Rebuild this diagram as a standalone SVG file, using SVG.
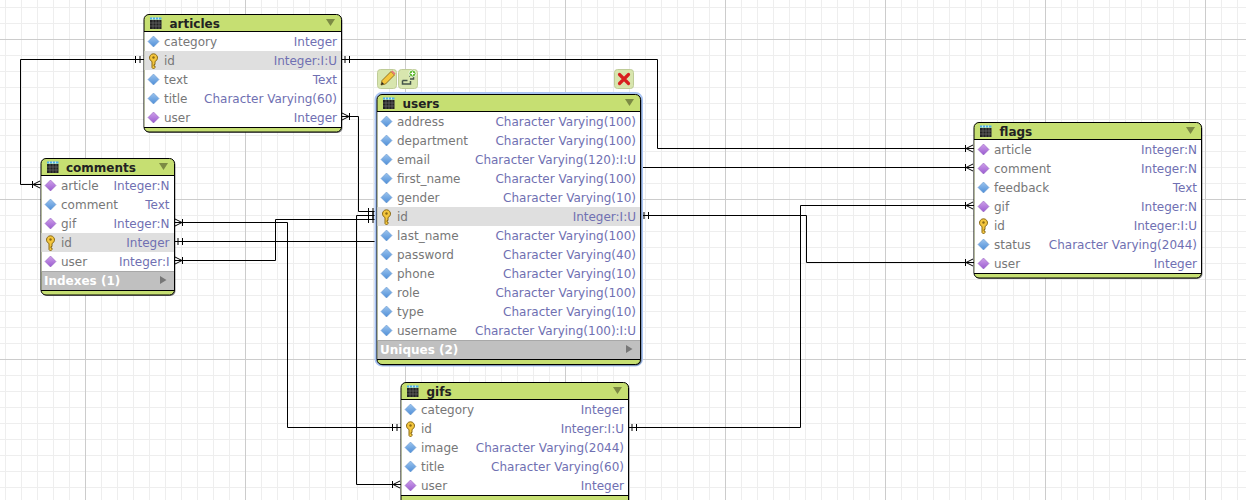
<svg xmlns="http://www.w3.org/2000/svg" width="1246" height="500" viewBox="0 0 1246 500">
<style>
.minor{stroke:#eeeeee;stroke-width:1;fill:none}
.major{stroke:#cccccc;stroke-width:1;fill:none}
.conn{stroke:#000;stroke-width:1;fill:none}
.shadow{fill:#000;fill-opacity:.45}
.body{fill:#c6df72;stroke:#000;stroke-width:1}
.rows{fill:#fff}
.line{stroke:#000;stroke-width:1;fill:none}
.sel{fill:#dfdfdf}
.sec{fill:#c0c0c0}
.secline{stroke:#a8a8a8;stroke-width:1}
text{font-family:"DejaVu Sans",Verdana,sans-serif;font-size:12px}
.title{font-weight:bold;fill:#222}
.name{fill:#777}
.type{fill:#7070b2;text-anchor:end}
.sectxt{font-weight:bold;fill:#fff}
.tri{fill:#7c8a44}
.tri2{fill:#777}
.halo{fill:none;stroke:#a9c4f2;stroke-width:3}
.btn{fill:#d8e6ae;stroke:#bfcc98;stroke-width:1}
</style>
<defs>
<linearGradient id="gb" x1="0" y1="0" x2="0" y2="1"><stop offset="0" stop-color="#9cc4ee"/><stop offset="1" stop-color="#4f8fd8"/></linearGradient>
<linearGradient id="gp" x1="0" y1="0" x2="0" y2="1"><stop offset="0" stop-color="#cfa0ea"/><stop offset="1" stop-color="#9a5cd0"/></linearGradient>
<g id="blue"><path d="M0-5.500 5.500 0 0 5.500-5.500 0Z" fill="url(#gb)" stroke="#5d8fc8" stroke-width=".5"/></g>
<g id="purple"><path d="M0-5.500 5.500 0 0 5.500-5.500 0Z" fill="url(#gp)" stroke="#8a55b8" stroke-width=".5"/></g>
<g id="key"><path d="M-1.500 1V7L0 8.500 1.500 7V5.500H.5V4H1.500V1A4 4 0 1 0-1.500 1Z" fill="#f4c63d" stroke="#8a6a14" stroke-width="1"/><circle cx="0" cy="-3" r="1.200" fill="#8a6a14"/></g>
<g id="tbl"><path d="M0 0h11.500v2h-11.500z" fill="#4aaef0"/><path d="M2.500 0v2M5.500 0v2M8.500 0v2" stroke="#fff" stroke-width=".7"/><rect x="0" y="2.500" width="11.500" height="9" fill="#222"/><path d="M0 5.500h11.500M0 8.500h11.500M3 2.500v9M6 2.500v9M9 2.500v9" stroke="#777" stroke-width=".6"/></g>
<marker id="one" markerUnits="userSpaceOnUse" orient="auto-start-reverse" viewBox="-12 -6 12 12" refX="0" refY="0" markerWidth="12" markerHeight="12"><path d="M-8.500-3.500V3.500M-4-3.500V3.500" stroke="#000" stroke-width="1" fill="none"/></marker>
<marker id="many" markerUnits="userSpaceOnUse" orient="auto-start-reverse" viewBox="-12 -6 12 12" refX="0" refY="0" markerWidth="12" markerHeight="12"><path d="M-8.500-3.500V3.500M-8 0-1-3.500M-8 0-1 3.500" stroke="#000" stroke-width="1" fill="none"/></marker>
</defs>

<g id="grid">
<path class="minor" d="M5.500 0V500M21.500 0V500M37.500 0V500M53.500 0V500M69.500 0V500M101.500 0V500M117.500 0V500M133.500 0V500M149.500 0V500M165.500 0V500M181.500 0V500M197.500 0V500M213.500 0V500M229.500 0V500M261.500 0V500M277.500 0V500M293.500 0V500M309.500 0V500M325.500 0V500M341.500 0V500M357.500 0V500M373.500 0V500M389.500 0V500M421.500 0V500M437.500 0V500M453.500 0V500M469.500 0V500M485.500 0V500M501.500 0V500M517.500 0V500M533.500 0V500M549.500 0V500M581.500 0V500M597.500 0V500M613.500 0V500M629.500 0V500M645.500 0V500M661.500 0V500M677.500 0V500M693.500 0V500M709.500 0V500M741.500 0V500M757.500 0V500M773.500 0V500M789.500 0V500M805.500 0V500M821.500 0V500M837.500 0V500M853.500 0V500M869.500 0V500M901.500 0V500M917.500 0V500M933.500 0V500M949.500 0V500M965.500 0V500M981.500 0V500M997.500 0V500M1013.500 0V500M1029.500 0V500M1061.500 0V500M1077.500 0V500M1093.500 0V500M1109.500 0V500M1125.500 0V500M1141.500 0V500M1157.500 0V500M1173.500 0V500M1189.500 0V500M1221.500 0V500M1237.500 0V500"/>
<path class="minor" d="M0 7.500H1246M0 23.500H1246M0 55.500H1246M0 71.500H1246M0 87.500H1246M0 103.500H1246M0 119.500H1246M0 135.500H1246M0 151.500H1246M0 167.500H1246M0 183.500H1246M0 215.500H1246M0 231.500H1246M0 247.500H1246M0 263.500H1246M0 279.500H1246M0 295.500H1246M0 311.500H1246M0 327.500H1246M0 343.500H1246M0 375.500H1246M0 391.500H1246M0 407.500H1246M0 423.500H1246M0 439.500H1246M0 455.500H1246M0 471.500H1246M0 487.500H1246"/>
<path class="major" d="M85.500 0V500M245.500 0V500M405.500 0V500M565.500 0V500M725.500 0V500M885.500 0V500M1045.500 0V500M1205.500 0V500M0 39.500H1246M0 199.500H1246M0 359.500H1246"/>
</g>

<g id="connectors">
<path class="conn" marker-start="url(#one)" marker-end="url(#many)" d="M144 59.500H20.500V184.500H41"/>
<path class="conn" marker-start="url(#one)" marker-end="url(#many)" d="M341 59.500H657.500V148.500H974"/>
<path class="conn" marker-start="url(#many)" marker-end="url(#one)" d="M341 116.500H358.500V211.500H377"/>
<path class="conn" marker-start="url(#many)" marker-end="url(#one)" d="M174 222.500H287.500V427.500H401"/>
<path class="conn" marker-start="url(#one)" d="M174 241.500H377"/>
<path class="conn" marker-start="url(#many)" marker-end="url(#one)" d="M174 260.500H275.500V219.500H377"/>
<path class="conn" marker-start="url(#one)" marker-end="url(#many)" d="M377 215.500H356.500V484.500H401"/>
<path class="conn" d="M640 167.500H974" marker-end="url(#many)"/>
<path class="conn" marker-start="url(#one)" marker-end="url(#many)" d="M640 215.500H806.500V262.500H974"/>
<path class="conn" marker-start="url(#one)" marker-end="url(#many)" d="M628 427.500H800.500V205.500H974"/>
</g>

<g id="articles" transform="translate(144,14)">
<rect class="shadow" x="1" y="1.500" width="197.500" height="117.500" rx="5"/>
<rect class="body" x="0" y=".5" width="197.500" height="117.500" rx="5"/>
<rect class="rows" x=".5" y="18" width="196.500" height="95"/>
<rect class="sel" x=".5" y="37" width="196.500" height="19"/>
<path class="line" d="M0 17.500H197.500M0 113.500H197.500"/>
<use href="#tbl" x="6" y="3.500"/>
<text class="title" x="25.500" y="14">articles</text>
<path class="tri" d="M182 5h9l-4.500 7z"/>
<use href="#blue" x="9.500" y="27.500"/><text class="name" x="20" y="32">category</text><text class="type" x="193" y="32">Integer</text>
<use href="#key" x="9.500" y="46.500"/><text class="name" x="20" y="51">id</text><text class="type" x="193" y="51">Integer:I:U</text>
<use href="#blue" x="9.500" y="65.500"/><text class="name" x="20" y="70">text</text><text class="type" x="193" y="70">Text</text>
<use href="#blue" x="9.500" y="84.500"/><text class="name" x="20" y="89">title</text><text class="type" x="193" y="89">Character Varying(60)</text>
<use href="#purple" x="9.500" y="103.500"/><text class="name" x="20" y="108">user</text><text class="type" x="193" y="108">Integer</text>
</g>

<g id="comments" transform="translate(41,158)">
<rect class="shadow" x="1" y="1.500" width="133.500" height="136.500" rx="5"/>
<rect class="body" x="0" y=".5" width="133.500" height="136.500" rx="5"/>
<rect class="rows" x=".5" y="18" width="132.500" height="95"/>
<rect class="sel" x=".5" y="75" width="132.500" height="19"/>
<rect class="sec" x=".5" y="113" width="132.500" height="19"/>
<path class="secline" d="M.5 113.500H133"/>
<path class="line" d="M0 17.500H133.500M0 132.500H133.500"/>
<use href="#tbl" x="6" y="3.500"/>
<text class="title" x="25" y="14">comments</text>
<path class="tri" d="M118 5h9l-4.500 7z"/>
<use href="#purple" x="9.500" y="27.500"/><text class="name" x="20" y="32">article</text><text class="type" x="128.500" y="32">Integer:N</text>
<use href="#blue" x="9.500" y="46.500"/><text class="name" x="20" y="51">comment</text><text class="type" x="128.500" y="51">Text</text>
<use href="#purple" x="9.500" y="65.500"/><text class="name" x="20" y="70">gif</text><text class="type" x="128.500" y="70">Integer:N</text>
<use href="#key" x="9.500" y="84.500"/><text class="name" x="20" y="89">id</text><text class="type" x="128.500" y="89">Integer</text>
<use href="#purple" x="9.500" y="103.500"/><text class="name" x="20" y="108">user</text><text class="type" x="128.500" y="108">Integer:I</text>
<text class="sectxt" x="3" y="127">Indexes (1)</text>
<path class="tri2" d="M119 118v8l6.500-4z"/>
</g>

<g id="users" transform="translate(377,94)">
<rect class="halo" x="-1" y="-.5" width="265.500" height="271.500" rx="6"/>
<rect class="shadow" x="1" y="1.500" width="263.500" height="270" rx="5"/>
<rect class="body" x="0" y=".5" width="263.500" height="270" rx="5"/>
<rect class="rows" x=".5" y="18" width="262.500" height="228"/>
<rect class="sel" x=".5" y="113" width="262.500" height="19"/>
<rect class="sec" x=".5" y="246" width="262.500" height="19"/>
<path class="secline" d="M.5 246.500H263"/>
<path class="line" d="M0 17.500H263.500M0 265.500H263.500"/>
<use href="#tbl" x="6" y="3.500"/>
<text class="title" x="25.500" y="14">users</text>
<path class="tri" d="M248 5h9l-4.500 7z"/>
<use href="#blue" x="9.500" y="27.500"/><text class="name" x="20" y="32">address</text><text class="type" x="259" y="32">Character Varying(100)</text>
<use href="#blue" x="9.500" y="46.500"/><text class="name" x="20" y="51">department</text><text class="type" x="259" y="51">Character Varying(100)</text>
<use href="#blue" x="9.500" y="65.500"/><text class="name" x="20" y="70">email</text><text class="type" x="259" y="70">Character Varying(120):I:U</text>
<use href="#blue" x="9.500" y="84.500"/><text class="name" x="20" y="89">first_name</text><text class="type" x="259" y="89">Character Varying(100)</text>
<use href="#blue" x="9.500" y="103.500"/><text class="name" x="20" y="108">gender</text><text class="type" x="259" y="108">Character Varying(10)</text>
<use href="#key" x="9.500" y="122.500"/><text class="name" x="20" y="127">id</text><text class="type" x="259" y="127">Integer:I:U</text>
<use href="#blue" x="9.500" y="141.500"/><text class="name" x="20" y="146">last_name</text><text class="type" x="259" y="146">Character Varying(100)</text>
<use href="#blue" x="9.500" y="160.500"/><text class="name" x="20" y="165">password</text><text class="type" x="259" y="165">Character Varying(40)</text>
<use href="#blue" x="9.500" y="179.500"/><text class="name" x="20" y="184">phone</text><text class="type" x="259" y="184">Character Varying(10)</text>
<use href="#blue" x="9.500" y="198.500"/><text class="name" x="20" y="203">role</text><text class="type" x="259" y="203">Character Varying(100)</text>
<use href="#blue" x="9.500" y="217.500"/><text class="name" x="20" y="222">type</text><text class="type" x="259" y="222">Character Varying(10)</text>
<use href="#blue" x="9.500" y="236.500"/><text class="name" x="20" y="241">username</text><text class="type" x="259" y="241">Character Varying(100):I:U</text>
<text class="sectxt" x="3" y="260">Uniques (2)</text>
<path class="tri2" d="M249 251v8l6.500-4z"/>
</g>

<g id="user-tools">
<rect class="btn" x="377.500" y="69.500" width="19" height="19" rx="3"/>
<path d="M381 85l1-4.500 9-9 3.500 3.500-9 9z" fill="#f4c63d" stroke="#7a5a10" stroke-width=".8"/>
<path d="M391 71.500l3.500 3.500 1-1.500-3-3z" fill="#e87878"/>
<path d="M381 85l1-3 2 2z" fill="#222"/>
<rect class="btn" x="398.500" y="69.500" width="19" height="19" rx="3"/>
<path d="M402.500 80.500h5M402.500 80.500v3.500h8v-3M407 84h-1M410 79h3.500v-3H409" fill="none" stroke="#44544a" stroke-width="1.500"/>
<circle cx="412.500" cy="73.500" r="3.500" fill="#5cb82e" stroke="#fff" stroke-width=".8"/>
<path d="M410.500 73.500h4M412.500 71.500v4" stroke="#fff" stroke-width="1.200"/>
<rect class="btn" x="614.500" y="69.500" width="19" height="19" rx="3"/>
<path d="M619.500 74.500l9 9M628.500 74.500l-9 9" stroke="#d82020" stroke-width="3.200" stroke-linecap="round"/>
</g>

<g id="gifs" transform="translate(401,382)">
<rect class="shadow" x="1" y="1.500" width="227.500" height="125" rx="5"/>
<rect class="body" x="0" y=".5" width="227.500" height="124" rx="5"/>
<rect class="rows" x=".5" y="18" width="226.500" height="95"/>
<path class="line" d="M0 17.500H227.500M0 113.500H227.500"/>
<use href="#tbl" x="6" y="3.500"/>
<text class="title" x="25.500" y="14">gifs</text>
<path class="tri" d="M212 5h9l-4.500 7z"/>
<use href="#blue" x="9.500" y="27.500"/><text class="name" x="20" y="32">category</text><text class="type" x="223" y="32">Integer</text>
<use href="#key" x="9.500" y="46.500"/><text class="name" x="20" y="51">id</text><text class="type" x="223" y="51">Integer:I:U</text>
<use href="#blue" x="9.500" y="65.500"/><text class="name" x="20" y="70">image</text><text class="type" x="223" y="70">Character Varying(2044)</text>
<use href="#blue" x="9.500" y="84.500"/><text class="name" x="20" y="89">title</text><text class="type" x="223" y="89">Character Varying(60)</text>
<use href="#purple" x="9.500" y="103.500"/><text class="name" x="20" y="108">user</text><text class="type" x="223" y="108">Integer</text>
</g>

<g id="flags" transform="translate(974,122)">
<rect class="shadow" x="1" y="1.500" width="227.500" height="155.500" rx="5"/>
<rect class="body" x="0" y=".5" width="227.500" height="155.500" rx="5"/>
<rect class="rows" x=".5" y="18" width="226.500" height="133"/>
<path class="line" d="M0 17.500H227.500M0 151.500H227.500"/>
<use href="#tbl" x="6" y="3.500"/>
<text class="title" x="25.500" y="14">flags</text>
<path class="tri" d="M212 5h9l-4.500 7z"/>
<use href="#purple" x="9.500" y="27.500"/><text class="name" x="20" y="32">article</text><text class="type" x="223" y="32">Integer:N</text>
<use href="#purple" x="9.500" y="46.500"/><text class="name" x="20" y="51">comment</text><text class="type" x="223" y="51">Integer:N</text>
<use href="#blue" x="9.500" y="65.500"/><text class="name" x="20" y="70">feedback</text><text class="type" x="223" y="70">Text</text>
<use href="#purple" x="9.500" y="84.500"/><text class="name" x="20" y="89">gif</text><text class="type" x="223" y="89">Integer:N</text>
<use href="#key" x="9.500" y="103.500"/><text class="name" x="20" y="108">id</text><text class="type" x="223" y="108">Integer:I:U</text>
<use href="#blue" x="9.500" y="122.500"/><text class="name" x="20" y="127">status</text><text class="type" x="223" y="127">Character Varying(2044)</text>
<use href="#purple" x="9.500" y="141.500"/><text class="name" x="20" y="146">user</text><text class="type" x="223" y="146">Integer</text>
</g>
</svg>
